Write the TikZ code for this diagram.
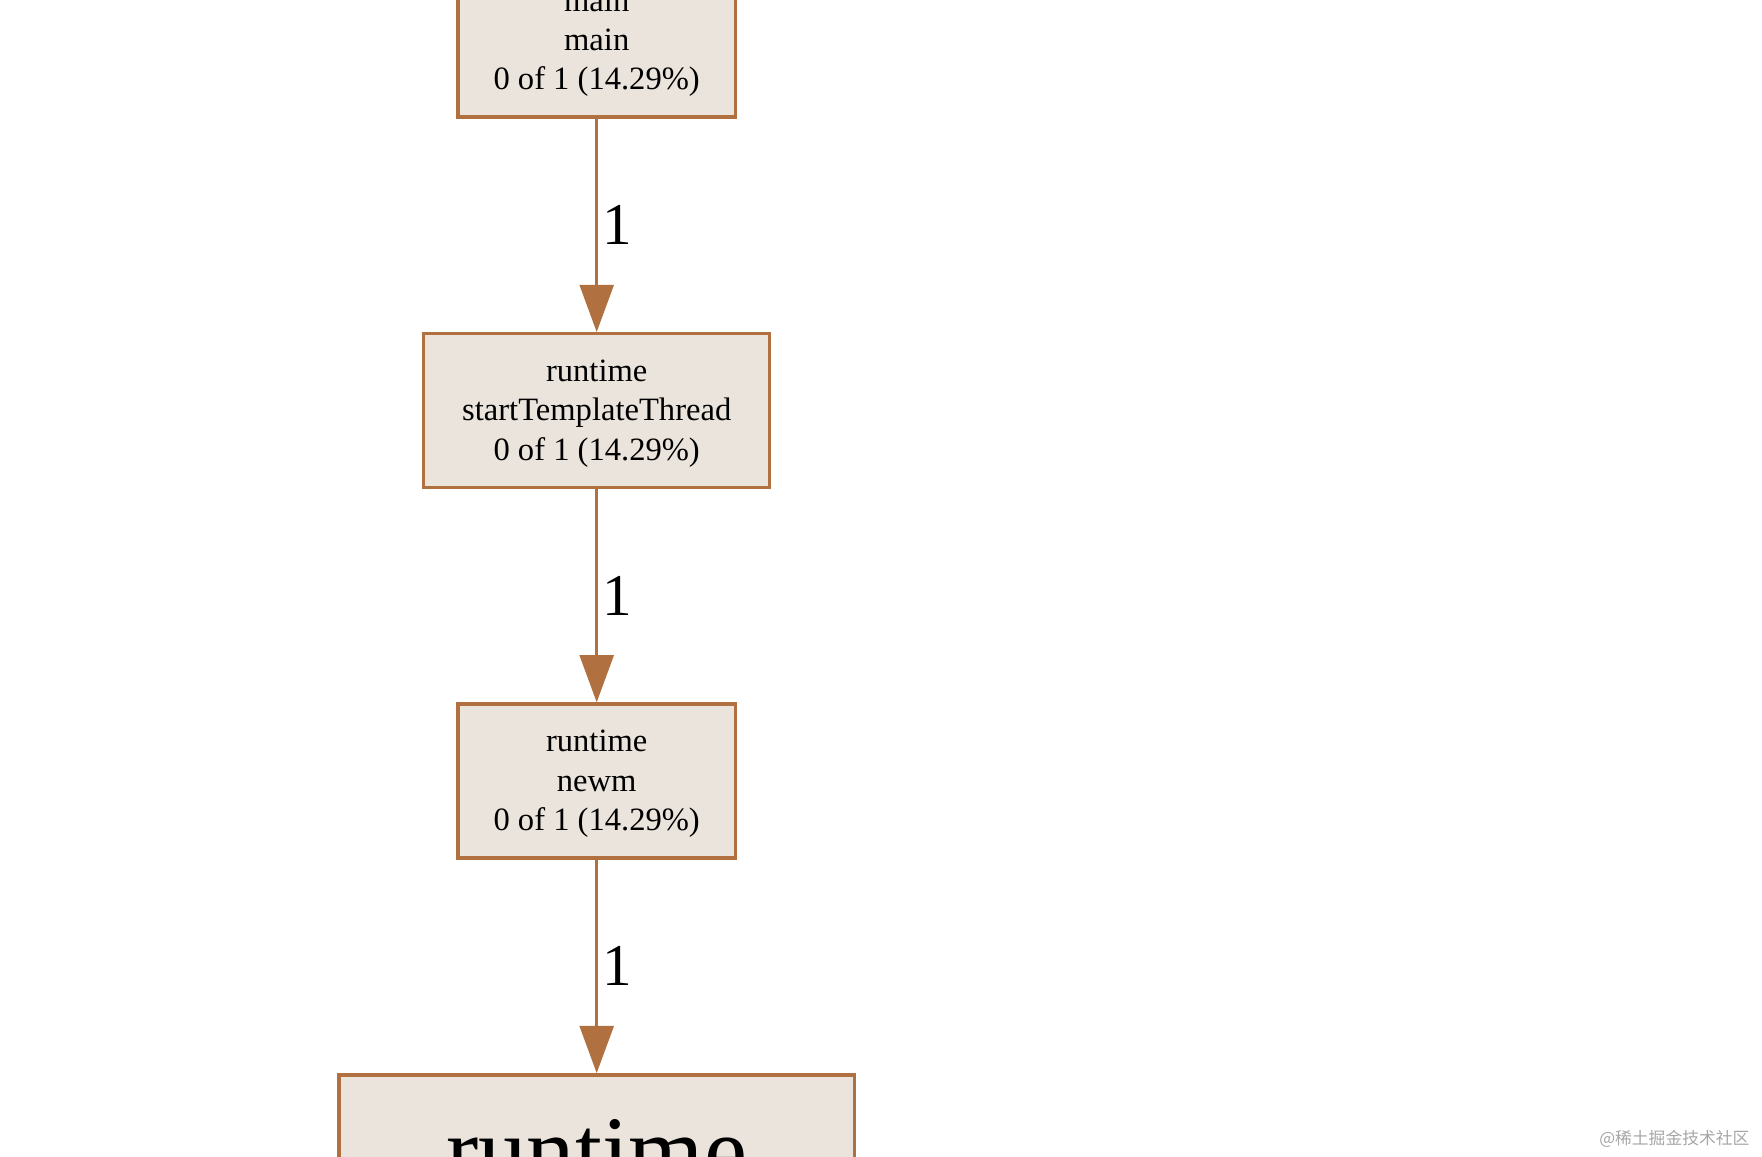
\documentclass[tikz,border=0pt]{standalone}
\usepackage{fontspec}
\setmainfont{Liberation Serif}
\newfontfamily\cjk{Noto Sans CJK SC}
\usetikzlibrary{arrows.meta, positioning}
\definecolor{edgebrown}{RGB}{176,112,64}
\definecolor{boxfill}{RGB}{235,228,220}
\tikzset{
  fnbox/.style={rectangle, draw=edgebrown, fill=boxfill, line width=1.7pt,
    inner sep=0pt, minimum height=2.74cm, align=center,
    font=\fontsize{16.5}{19.9}\selectfont},
  call/.style={draw=edgebrown, line width=1.7pt,
    -{Triangle[length=0.84cm,width=0.6cm]}},
  count/.style={right, font=\fontsize{30}{30}\selectfont, inner sep=2pt}
}
\begin{document}
\begin{tikzpicture}[x=0.02cm, y=-0.02cm]
  \useasboundingbox (0,0) rectangle (1568,1029);
  \begin{scope}
    \clip (0,0) rectangle (1568,1029);

    \node[fnbox, minimum width=4.94cm] (main) at (531,35.5) {\\[-0.2cm]main\\main\\0 of 1 (14.29\%)};
    \node[fnbox, minimum width=6.16cm] (tmpl) at (531,365.5) {\\[-0.22cm]runtime\\startTemplateThread\\0 of 1 (14.29\%)};
    \node[fnbox, minimum width=4.94cm] (newm) at (531,695) {\\[-0.22cm]runtime\\newm\\0 of 1 (14.29\%)};
    \node[fnbox, minimum width=9.18cm, minimum height=4cm, anchor=north] (rt) at (531,955) {};
    \node[anchor=base, font=\fontsize{49}{49}\selectfont, inner sep=0pt] (rtlabel) at (531,1053) {runtime};

    \draw[call] (main) -- node[count] {1} (tmpl);
    \draw[call] (tmpl) -- node[count] {1} (newm);
    \draw[call] (newm) -- node[count] {1} (rt);

    \node[text=gray!70, font=\cjk\fontsize{8.5}{10}\selectfont] (mark) at (1490,1013) {@稀土掘金技术社区};
  \end{scope}
\end{tikzpicture}
\end{document}
